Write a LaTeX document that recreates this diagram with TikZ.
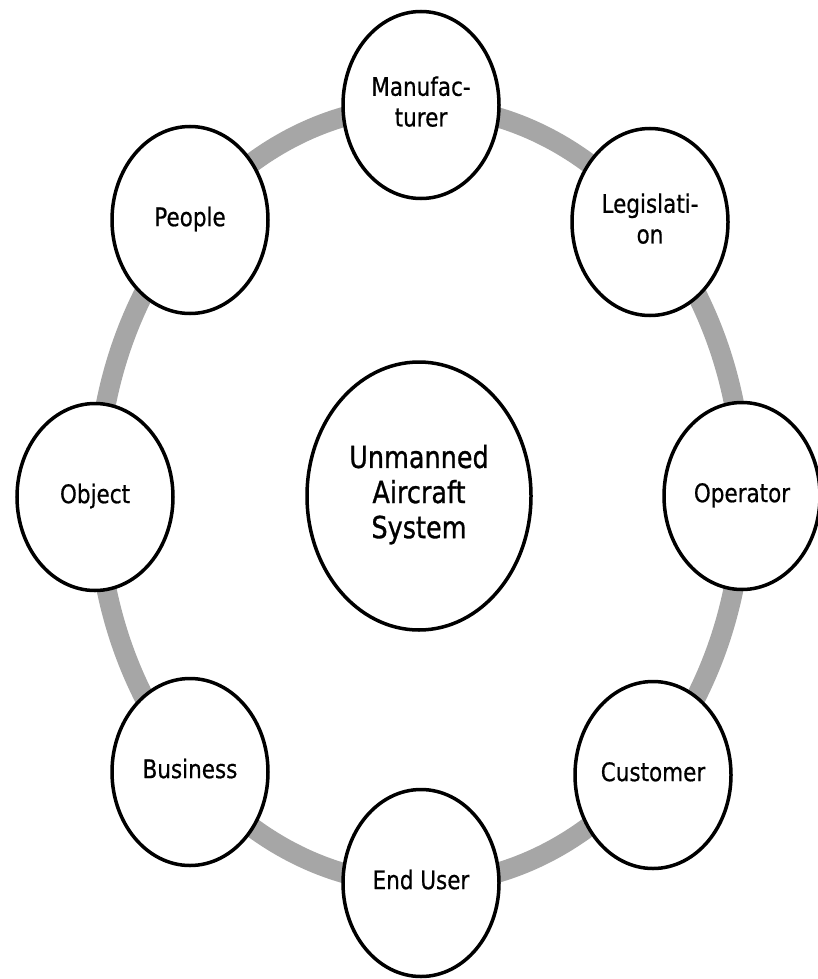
\documentclass[tikz,border=0pt]{standalone}
\usepackage{fontspec}
\setmainfont{DejaVu Sans}
\newfontfamily\lblfont{DejaVu Sans}[FakeBold=0.6]
\newfontfamily\hubfont{DejaVu Sans}[FakeBold=1.0]
\usepackage{graphicx}
\usetikzlibrary{shapes.geometric}
\definecolor{ringgray}{RGB}{166,166,166}
\newcommand{\stlbl}[1]{\scalebox{1}[1.19]{\begin{tabular}{@{}c@{}}#1\end{tabular}}}
\begin{document}
\begin{tikzpicture}[x=1pt,y=-1pt,
  ringline/.style={draw=ringgray, line width=20pt},
  bub/.style={ellipse, draw=black, line width=3.5pt, fill=white,
    minimum width=156pt, minimum height=187pt, inner sep=0pt,
    font=\lblfont\fontsize{21.5}{25.8}\selectfont},
  hub/.style={bub, minimum width=224pt, minimum height=268pt,
    font=\hubfont\fontsize{25.5}{29.5}\selectfont}]
\useasboundingbox (0,0) rectangle (818,979);
\coordinate (ringc) at (420,495);
\draw[ringline] (ringc) ellipse [x radius=323pt, y radius=389pt];
\node[hub] (uas) at (419,496) {\stlbl{Unmanned\\Aircraft\\System}};
\node[bub] (man) at (421,105) {\stlbl{Manufac-\\turer}};
\node[bub] (leg) at (650,222) {\stlbl{Legislati-\\on}};
\node[bub] (ope) at (742,496) {\stlbl{Operator}};
\node[bub] (cus) at (653,775) {\stlbl{Customer}};
\node[bub] (enduser) at (421,883) {\stlbl{End User}};
\node[bub] (bus) at (190,772) {\stlbl{Business}};
\node[bub] (obj) at (95,497) {\stlbl{Object}};
\node[bub] (peo) at (190,220) {\stlbl{People}};
\end{tikzpicture}
\end{document}
